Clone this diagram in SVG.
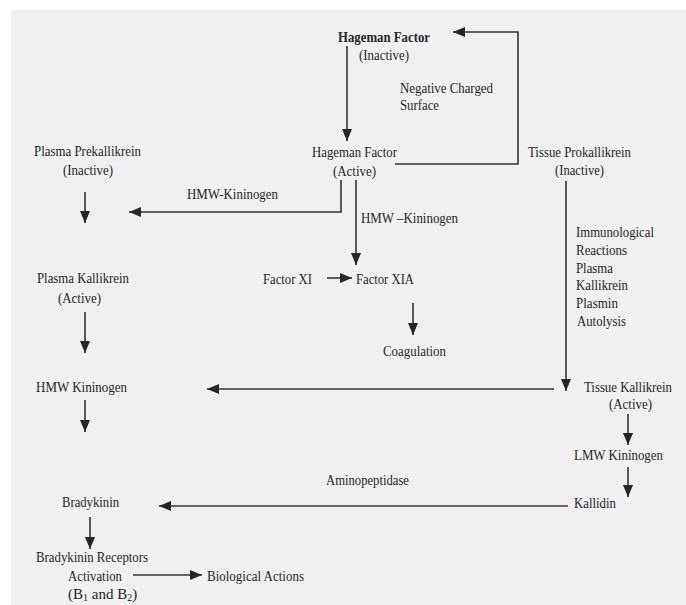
<svg xmlns="http://www.w3.org/2000/svg" width="686" height="605" viewBox="0 0 686 605">
  <style>
    text { font-family: "Liberation Serif", "Times New Roman", serif; font-size: 15px; fill: #262626; }
    .b { font-weight: bold; }
    .m { text-anchor: middle; }
    .c { fill: none; stroke: #333; stroke-width: 1.6; }
  </style>
  <defs>
    <marker id="ah" markerUnits="userSpaceOnUse" markerWidth="13" markerHeight="11" refX="12" refY="5" orient="auto">
      <path d="M0,0 L12,5 L0,10 z" fill="#262626"/>
    </marker>
  </defs>
  <rect x="0" y="0" width="686" height="605" fill="#ffffff"/>
  <rect x="11" y="10" width="675" height="595" fill="#f0f0f0"/>

  <g id="connectors" class="c" marker-end="url(#ah)">
    <path d="M347,46 L347,141"/>
    <path d="M395,164 L518,164 L518,32 L453,32"/>
    <path d="M341,180 L341,212 L129,212"/>
    <path d="M356,180 L356,265"/>
    <path d="M327,278 L352,278"/>
    <path d="M413,303 L413,335"/>
    <path d="M85,192 L85,223"/>
    <path d="M85,312 L85,353"/>
    <path d="M85,400 L85,432"/>
    <path d="M566,181 L566,391"/>
    <path d="M554,389 L207,389"/>
    <path d="M628,414 L628,445"/>
    <path d="M628,467 L628,497"/>
    <path d="M568,506 L159,506"/>
    <path d="M90,517 L90,549"/>
    <path d="M133,575 L202,575"/>
  </g>

  <g id="hageman-inactive">
    <text class="b m" x="384" y="42" textLength="92" lengthAdjust="spacingAndGlyphs">Hageman Factor</text>
    <text class="m" x="384" y="60" textLength="50" lengthAdjust="spacingAndGlyphs">(Inactive)</text>
  </g>
  <g id="negative-surface">
    <text x="400" y="93" textLength="93" lengthAdjust="spacingAndGlyphs">Negative Charged</text>
    <text x="400" y="110" textLength="39" lengthAdjust="spacingAndGlyphs">Surface</text>
  </g>
  <g id="hageman-active">
    <text class="m" x="354.5" y="157" textLength="85" lengthAdjust="spacingAndGlyphs">Hageman Factor</text>
    <text class="m" x="354.5" y="176" textLength="43" lengthAdjust="spacingAndGlyphs">(Active)</text>
  </g>
  <g id="plasma-prekallikrein">
    <text class="m" x="87.5" y="156" textLength="107" lengthAdjust="spacingAndGlyphs">Plasma Prekallikrein</text>
    <text class="m" x="88" y="175" textLength="50" lengthAdjust="spacingAndGlyphs">(Inactive)</text>
  </g>
  <g id="tissue-prokallikrein">
    <text class="m" x="579.5" y="157" textLength="103" lengthAdjust="spacingAndGlyphs">Tissue Prokallikrein</text>
    <text class="m" x="579.5" y="175" textLength="49" lengthAdjust="spacingAndGlyphs">(Inactive)</text>
  </g>
  <g id="hmw-label-1">
    <text x="187" y="199" textLength="91" lengthAdjust="spacingAndGlyphs">HMW-Kininogen</text>
  </g>
  <g id="hmw-label-2">
    <text x="361" y="223" textLength="97" lengthAdjust="spacingAndGlyphs">HMW –Kininogen</text>
  </g>
  <g id="immuno-labels">
    <text x="576" y="237" textLength="78" lengthAdjust="spacingAndGlyphs">Immunological</text>
    <text x="576" y="255" textLength="51" lengthAdjust="spacingAndGlyphs">Reactions</text>
    <text x="576" y="273" textLength="37" lengthAdjust="spacingAndGlyphs">Plasma</text>
    <text x="576" y="290" textLength="52" lengthAdjust="spacingAndGlyphs">Kallikrein</text>
    <text x="576" y="308" textLength="42" lengthAdjust="spacingAndGlyphs">Plasmin</text>
    <text x="577" y="326" textLength="49" lengthAdjust="spacingAndGlyphs">Autolysis</text>
  </g>
  <g id="factor-xi">
    <text x="263" y="284" textLength="49" lengthAdjust="spacingAndGlyphs">Factor XI</text>
  </g>
  <g id="factor-xia">
    <text x="356" y="284" textLength="58" lengthAdjust="spacingAndGlyphs">Factor XIA</text>
  </g>
  <g id="coagulation">
    <text x="383" y="356" textLength="63" lengthAdjust="spacingAndGlyphs">Coagulation</text>
  </g>
  <g id="plasma-kallikrein">
    <text class="m" x="83" y="283" textLength="92" lengthAdjust="spacingAndGlyphs">Plasma Kallikrein</text>
    <text class="m" x="79.5" y="303" textLength="43" lengthAdjust="spacingAndGlyphs">(Active)</text>
  </g>
  <g id="hmw-kininogen">
    <text x="36" y="392" textLength="91" lengthAdjust="spacingAndGlyphs">HMW Kininogen</text>
  </g>
  <g id="tissue-kallikrein">
    <text x="584" y="392" font-size="13" textLength="88" lengthAdjust="spacingAndGlyphs">Tissue Kallikrein</text>
    <text x="609" y="409" textLength="43" lengthAdjust="spacingAndGlyphs">(Active)</text>
  </g>
  <g id="lmw-kininogen">
    <text x="574" y="460" textLength="89" lengthAdjust="spacingAndGlyphs">LMW Kininogen</text>
  </g>
  <g id="aminopeptidase">
    <text x="326" y="485" textLength="83" lengthAdjust="spacingAndGlyphs">Aminopeptidase</text>
  </g>
  <g id="kallidin">
    <text x="574" y="508" textLength="42" lengthAdjust="spacingAndGlyphs">Kallidin</text>
  </g>
  <g id="bradykinin">
    <text x="62" y="507" textLength="57" lengthAdjust="spacingAndGlyphs">Bradykinin</text>
  </g>
  <g id="bradykinin-receptors">
    <text x="36" y="562" textLength="112" lengthAdjust="spacingAndGlyphs">Bradykinin Receptors</text>
    <text x="68" y="581" textLength="54" lengthAdjust="spacingAndGlyphs">Activation</text>
    <text x="68" y="599">(B<tspan font-size="10" dy="2">1</tspan><tspan dy="-2"> and B</tspan><tspan font-size="10" dy="2">2</tspan><tspan dy="-2">)</tspan></text>
  </g>
  <g id="biological-actions">
    <text x="207" y="581" textLength="97" lengthAdjust="spacingAndGlyphs">Biological Actions</text>
  </g>
</svg>
